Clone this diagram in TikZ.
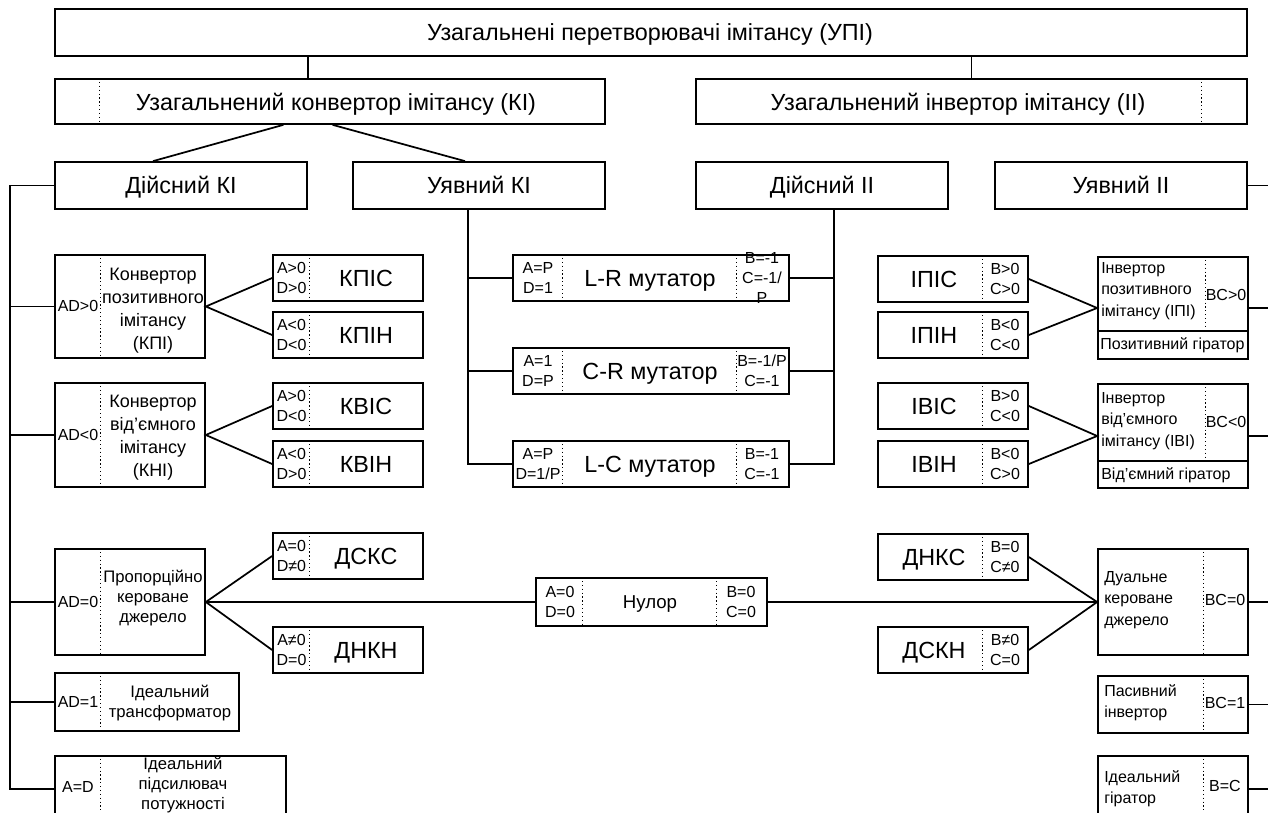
\documentclass[tikz,border=0pt]{standalone}
\usepackage{fontspec}
\setmainfont{Liberation Sans}
\usetikzlibrary{fit}

\tikzset{
  box/.style={draw, line width=1.3pt, inner sep=0pt},
  sep/.style={dotted, line width=0.9pt},
  con/.style={line width=1.3pt},
  big/.style={font=\fontsize{17.5}{20}\selectfont, inner sep=0pt, anchor=base, yshift=-6.2pt},
  mid/.style={font=\fontsize{13.5}{17.25}\selectfont, align=center, inner sep=0pt},
  sml/.style={font=\fontsize{12}{15}\selectfont, align=center, inner sep=0pt},
  rtx/.style={font=\fontsize{12}{16}\selectfont, align=left, anchor=west, inner sep=0pt},
}

\begin{document}
\begin{tikzpicture}[x=0.75pt, y=-0.75pt]
\path[use as bounding box, fill=white] (0,0) rectangle (1268,813);

% top levels
\node[box, fit={(55,9)(1247,56)}] (upi) {};
\node[big] (upit) at (650,32) {Узагальнені перетворювачі імітансу (УПІ)};
\node[box, fit={(55,79)(605,124)}] (ki) {};
\draw[sep] (ki.north west) ++(45,0) -- +(0,45);
\node[big] (kit) at (336,102) {Узагальнений конвертор імітансу (КІ)};
\node[box, fit={(696,79)(1247,124)}] (ii) {};
\draw[sep] (ii.north east) ++(-46,0) -- +(0,45);
\node[big] (iit) at (958,102) {Узагальнений інвертор імітансу (ІІ)};

\node[box, fit={(55,162)(307,209)}] (dki) {};
\node[big] (dkit) at (dki) {Дійсний КІ};
\node[box, fit={(353,162)(605,209)}] (uki) {};
\node[big] (ukit) at (uki) {Уявний КІ};
\node[box, fit={(696,162)(948,209)}] (dii) {};
\node[big] (diit) at (dii) {Дійсний ІІ};
\node[box, fit={(995,162)(1247,209)}] (uii) {};
\node[big] (uiit) at (uii) {Уявний ІІ};

\draw[con] (upi.south -| dki.north east) -- (ki.north -| dki.north east);
\draw[con] (ii.north) -- (ii.north |- upi.south);
\draw[con] ([xshift=-35pt]ki.south) -- ([xshift=-21pt]dki.north);
\draw[con] ([xshift=2pt]ki.south) -- ([xshift=-10.5pt]uki.north);

% mutators
\foreach \n/\y/\l/\m/\r in {lr/255/{A=P\\D=1}/{L-R мутатор}/{B=-1\\C=-1/\\P},
    cr/348/{A=1\\D=P}/{C-R мутатор}/{B=-1/P\\C=-1},
    lc/441/{A=P\\D=1/P}/{L-C мутатор}/{B=-1\\C=-1}} {
  \node[box, fit={(513,\y)(789,\y+46)}] (\n) {};
  \draw[sep] (\n.north west) ++(50,0) -- +(0,46);
  \draw[sep] (\n.north east) ++(-53,0) -- +(0,46);
  \node[sml] (\n-l) at (538,\y+23) {\l};
  \node[big] (\n-m) at (650,\y+23) {\m};
  \node[sml] (\n-r) at (762,\y+23) {\r};
}
\coordinate (lv) at (468,0);
\coordinate (rv) at (834,0);
\draw[con] (uki.south -| lv) |- (lc.west);
\draw[con] (dii.south -| rv) |- (lc.east);
\foreach \n in {lr,cr} {
  \draw[con] (\n.west) -- (\n.west -| lv);
  \draw[con] (\n.east) -- (\n.east -| rv);
}

% left branch
\node[box, fit={(55,255)(205,358)}] (kpi) {};
\draw[sep] (kpi.north west) ++(46,0) -- +(0,103);
\node[sml] (kpi-l) at (78,306) {AD>0};
\node[mid] (kpi-r) at (153,311) {Конвертор\\позитивного\\імітансу\\(КПІ)};
\node[box, fit={(55,383)(205,487)}] (kni) {};
\draw[sep] (kni.north west) ++(46,0) -- +(0,104);
\node[sml] (kni-l) at (78,435) {AD<0};
\node[mid] (kni-r) at (153,438) {Конвертор\\від’ємного\\імітансу\\(КНІ)};

\foreach \n/\y/\l/\r in {kpis/255/{A>0\\D>0}/КПІС, kpin/312/{A<0\\D<0}/КПІН,
    kvis/383/{A>0\\D<0}/КВІС, kvin/441/{A<0\\D>0}/КВІН,
    dsks/533/{A=0\\D≠0}/ДСКС, dnkn/627/{A≠0\\D=0}/ДНКН} {
  \node[box, fit={(273,\y)(423,\y+46)}] (\n) {};
  \draw[sep] (\n.north west) ++(37,0) -- +(0,46);
  \node[sml] (\n-l) at (291.5,\y+23) {\l};
  \node[big] (\n-r) at (366,\y+23) {\r};
}
\draw[con] (kpis.west) -- (kpi.east) -- (kpin.west);
\draw[con] (kvis.west) -- (kni.east) -- (kvin.west);

\node[box, fit={(55,549)(205,655)}] (pkd) {};
\draw[sep] (pkd.north west) ++(46,0) -- +(0,106);
\node[sml] (pkd-l) at (78,602) {AD=0};
\node[mid, font=\fontsize{12.5}{15}\selectfont] (pkd-r) at (153,598) {Пропорційно\\кероване\\джерело};
\node[box, fit={(55,673)(239,731)}] (itr) {};
\draw[sep] (itr.north west) ++(46,0) -- +(0,58);
\node[sml] (itr-l) at (78,702) {AD=1};
\node[mid, font=\fontsize{12.5}{15}\selectfont] (itr-r) at (170,703) {Ідеальний\\трансформатор};
\node[box, fit={(55,756)(286,822)}] (ipp) {};
\draw[sep] (ipp.north west) ++(46,0) -- +(0,66);
\node[sml] (ipp-l) at (78,787) {A=D};
\node[mid, font=\fontsize{12.5}{15}\selectfont] (ipp-r) at (183,785) {Ідеальний\\підсилювач\\потужності};

\draw[con] (dsks.west) -- (pkd.east) -- (dnkn.west);

\coordinate (lb) at (10,0);
\draw[con] (dki.west) -| (ipp.west -| lb) -- (ipp.west);
\foreach \n in {kpi,kni,pkd,itr}
  \draw[con] (\n.west) -- (\n.west -| lb);

% nullor
\node[box, fit={(536,578)(767,626)}] (nul) {};
\draw[sep] (nul.north west) ++(47,0) -- +(0,48);
\draw[sep] (nul.north east) ++(-51,0) -- +(0,48);
\node[sml] (nul-l) at (560,602) {A=0\\D=0};
\node[big, font=\fontsize{14}{16}\selectfont, yshift=1.2pt] (nul-m) at (650,602) {Нулор};
\node[sml] (nul-r) at (741,602) {B=0\\C=0};
\draw[con] (pkd.east) -- (nul.west);

% right branch
\foreach \n/\y/\l/\r in {ipis/256/ІПІС/{B>0\\C>0}, ipin/312/ІПІН/{B<0\\C<0},
    ivis/383/ІВІС/{B>0\\C<0}, ivin/441/ІВІН/{B<0\\C>0},
    dnks/534/ДНКС/{B=0\\C≠0}, dskn/627/ДСКН/{B≠0\\C=0}} {
  \node[box, fit={(878,\y)(1028,\y+46)}] (\n) {};
  \draw[sep] (\n.north east) ++(-46,0) -- +(0,46);
  \node[big] (\n-l) at (934,\y+23) {\l};
  \node[sml] (\n-r) at (1005,\y+23) {\r};
}

\node[box, fit={(1098,257)(1248,359)}] (ipi) {};
\draw[con] (ipi.south west) ++(0,-29) -- +(150,0);
\draw[sep] (ipi.north east) ++(-43,0) -- +(0,73);
\node[rtx] (ipi-l) at (1101,291) {Інвертор\\позитивного\\імітансу (ІПІ)};
\node[sml] (ipi-r) at (1226,295) {BC>0};
\node[rtx] (ipi-b) at (1100,345) {Позитивний гіратор};
\node[box, fit={(1098,384)(1248,488)}] (ivi) {};
\draw[con] (ivi.south west) ++(0,-28) -- +(150,0);
\draw[sep] (ivi.north east) ++(-43,0) -- +(0,76);
\node[rtx] (ivi-l) at (1101,421) {Інвертор\\від’ємного\\імітансу (ІВІ)};
\node[sml] (ivi-r) at (1226,422) {BC<0};
\node[rtx] (ivi-b) at (1101,475) {Від’ємний гіратор};

\node[box, fit={(1098,549)(1248,655)}] (dkd) {};
\draw[sep] (dkd.north east) ++(-45,0) -- +(0,106);
\node[rtx] (dkd-l) at (1104,600) {Дуальне\\кероване\\джерело};
\node[sml] (dkd-r) at (1225,600) {BC=0};
\node[box, fit={(1098,676)(1248,733)}] (pin) {};
\draw[sep] (pin.north east) ++(-45,0) -- +(0,57);
\node[rtx] (pin-l) at (1104,703) {Пасивний\\інвертор};
\node[sml] (pin-r) at (1225,703) {BC=1};
\node[box, fit={(1098,756)(1248,822)}] (igr) {};
\draw[sep] (igr.north east) ++(-45,0) -- +(0,66);
\node[rtx] (igr-l) at (1104,789) {Ідеальний\\гіратор};
\node[sml] (igr-r) at (1225,786) {B=C};

\draw[con] (ipis.east) -- (ipi.west) -- (ipin.east);
\draw[con] (ivis.east) -- (ivi.west) -- (ivin.east);
\draw[con] (dnks.east) -- (dkd.west) -- (dskn.east);
\draw[con] (nul.east) -- (dkd.west);

\coordinate (rb) at (1268,0);
\foreach \n in {uii,ipi,ivi,dkd,pin,igr}
  \draw[con] (\n.east) -- (\n.east -| rb);
\end{tikzpicture}
\end{document}
